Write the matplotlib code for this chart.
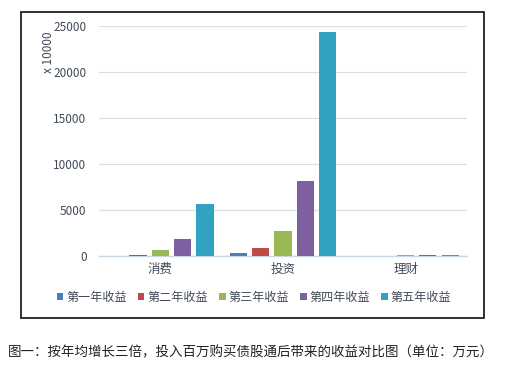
"""Recreate the bond/stock income comparison bar chart."""

import matplotlib.pyplot as plt
import numpy as np
from matplotlib.patches import Patch, Rectangle

plt.rcParams["font.family"] = ["Noto Sans CJK SC", "DejaVu Sans"]

categories = ["消费", "投资", "理财"]
series_names = ["第一年收益", "第二年收益", "第三年收益", "第四年收益", "第五年收益"]
# values in units of 10000 (x 10000)
year1 = [20, 300, 5]
year2 = [150, 900, 10]
year3 = [630, 2700, 110]
year4 = [1890, 8100, 120]
year5 = [5670, 24300, 130]
series_colors = ["#4A7EBB", "#BE4B48", "#98B954", "#7D60A0", "#31A2C2"]
y_ticks = [0, 5000, 10000, 15000, 20000, 25000]

TEXT_COLOR = "#404a59"


def main() -> None:
    fig = plt.figure(figsize=(5.06, 3.67), dpi=100)
    ax = fig.add_axes([0.1957, 0.3025, 0.727, 0.6267])

    x = np.arange(len(categories))
    slot = 0.182
    width = 0.14
    all_series = [year1, year2, year3, year4, year5]
    for i, (values, color) in enumerate(zip(all_series, series_colors)):
        offset = (i - 2) * slot
        ax.bar(x + offset, values, width=width, color=color, zorder=3, clip_on=False)

    ax.set_xlim(-0.5, 2.5)
    ax.set_ylim(0, 25000)
    ax.set_yticks(y_ticks)
    ax.set_yticklabels([str(t) for t in y_ticks])
    ax.set_xticks(x)
    ax.set_xticklabels(categories, fontsize=9, color=TEXT_COLOR)
    ax.tick_params(axis="y", labelsize=8.5, labelcolor=TEXT_COLOR, length=0, pad=9)
    ax.tick_params(axis="x", length=0, pad=5)
    ax.grid(axis="y", color="#d5e0ea", lw=0.9, zorder=0)
    for side in ["left", "right", "top"]:
        ax.spines[side].set_visible(False)
    ax.spines["bottom"].set_color("#c8d8e4")
    ax.spines["bottom"].set_linewidth(1.0)

    fig.text(0.095, 0.857, "x 10000", rotation=90, ha="center", va="center",
             fontsize=8.5, color=TEXT_COLOR)

    handles = [Patch(facecolor=c, edgecolor="none") for c in series_colors]
    fig.legend(handles, series_names, loc="center", bbox_to_anchor=(0.502, 0.19),
               ncol=5, frameon=False, fontsize=8.7, handlelength=0.55,
               handleheight=0.55, handletextpad=0.25, columnspacing=0.9,
               labelcolor=TEXT_COLOR)

    # outer chart border
    fig.patches.append(Rectangle((21 / 506, 1 - 318 / 367), 463 / 506, 306 / 367,
                                 transform=fig.transFigure, fill=False,
                                 edgecolor="#1e2228", lw=1.3))

    fig.text(8 / 506, 1 - 352 / 367,
             "图一：按年均增长三倍，投入百万购买债股通后带来的收益对比图（单位：万元）",
             ha="left", va="center", fontsize=9.7, color="#222222")

    fig.savefig("out.png", dpi=100)
    plt.close(fig)


if __name__ == "__main__":
    main()
